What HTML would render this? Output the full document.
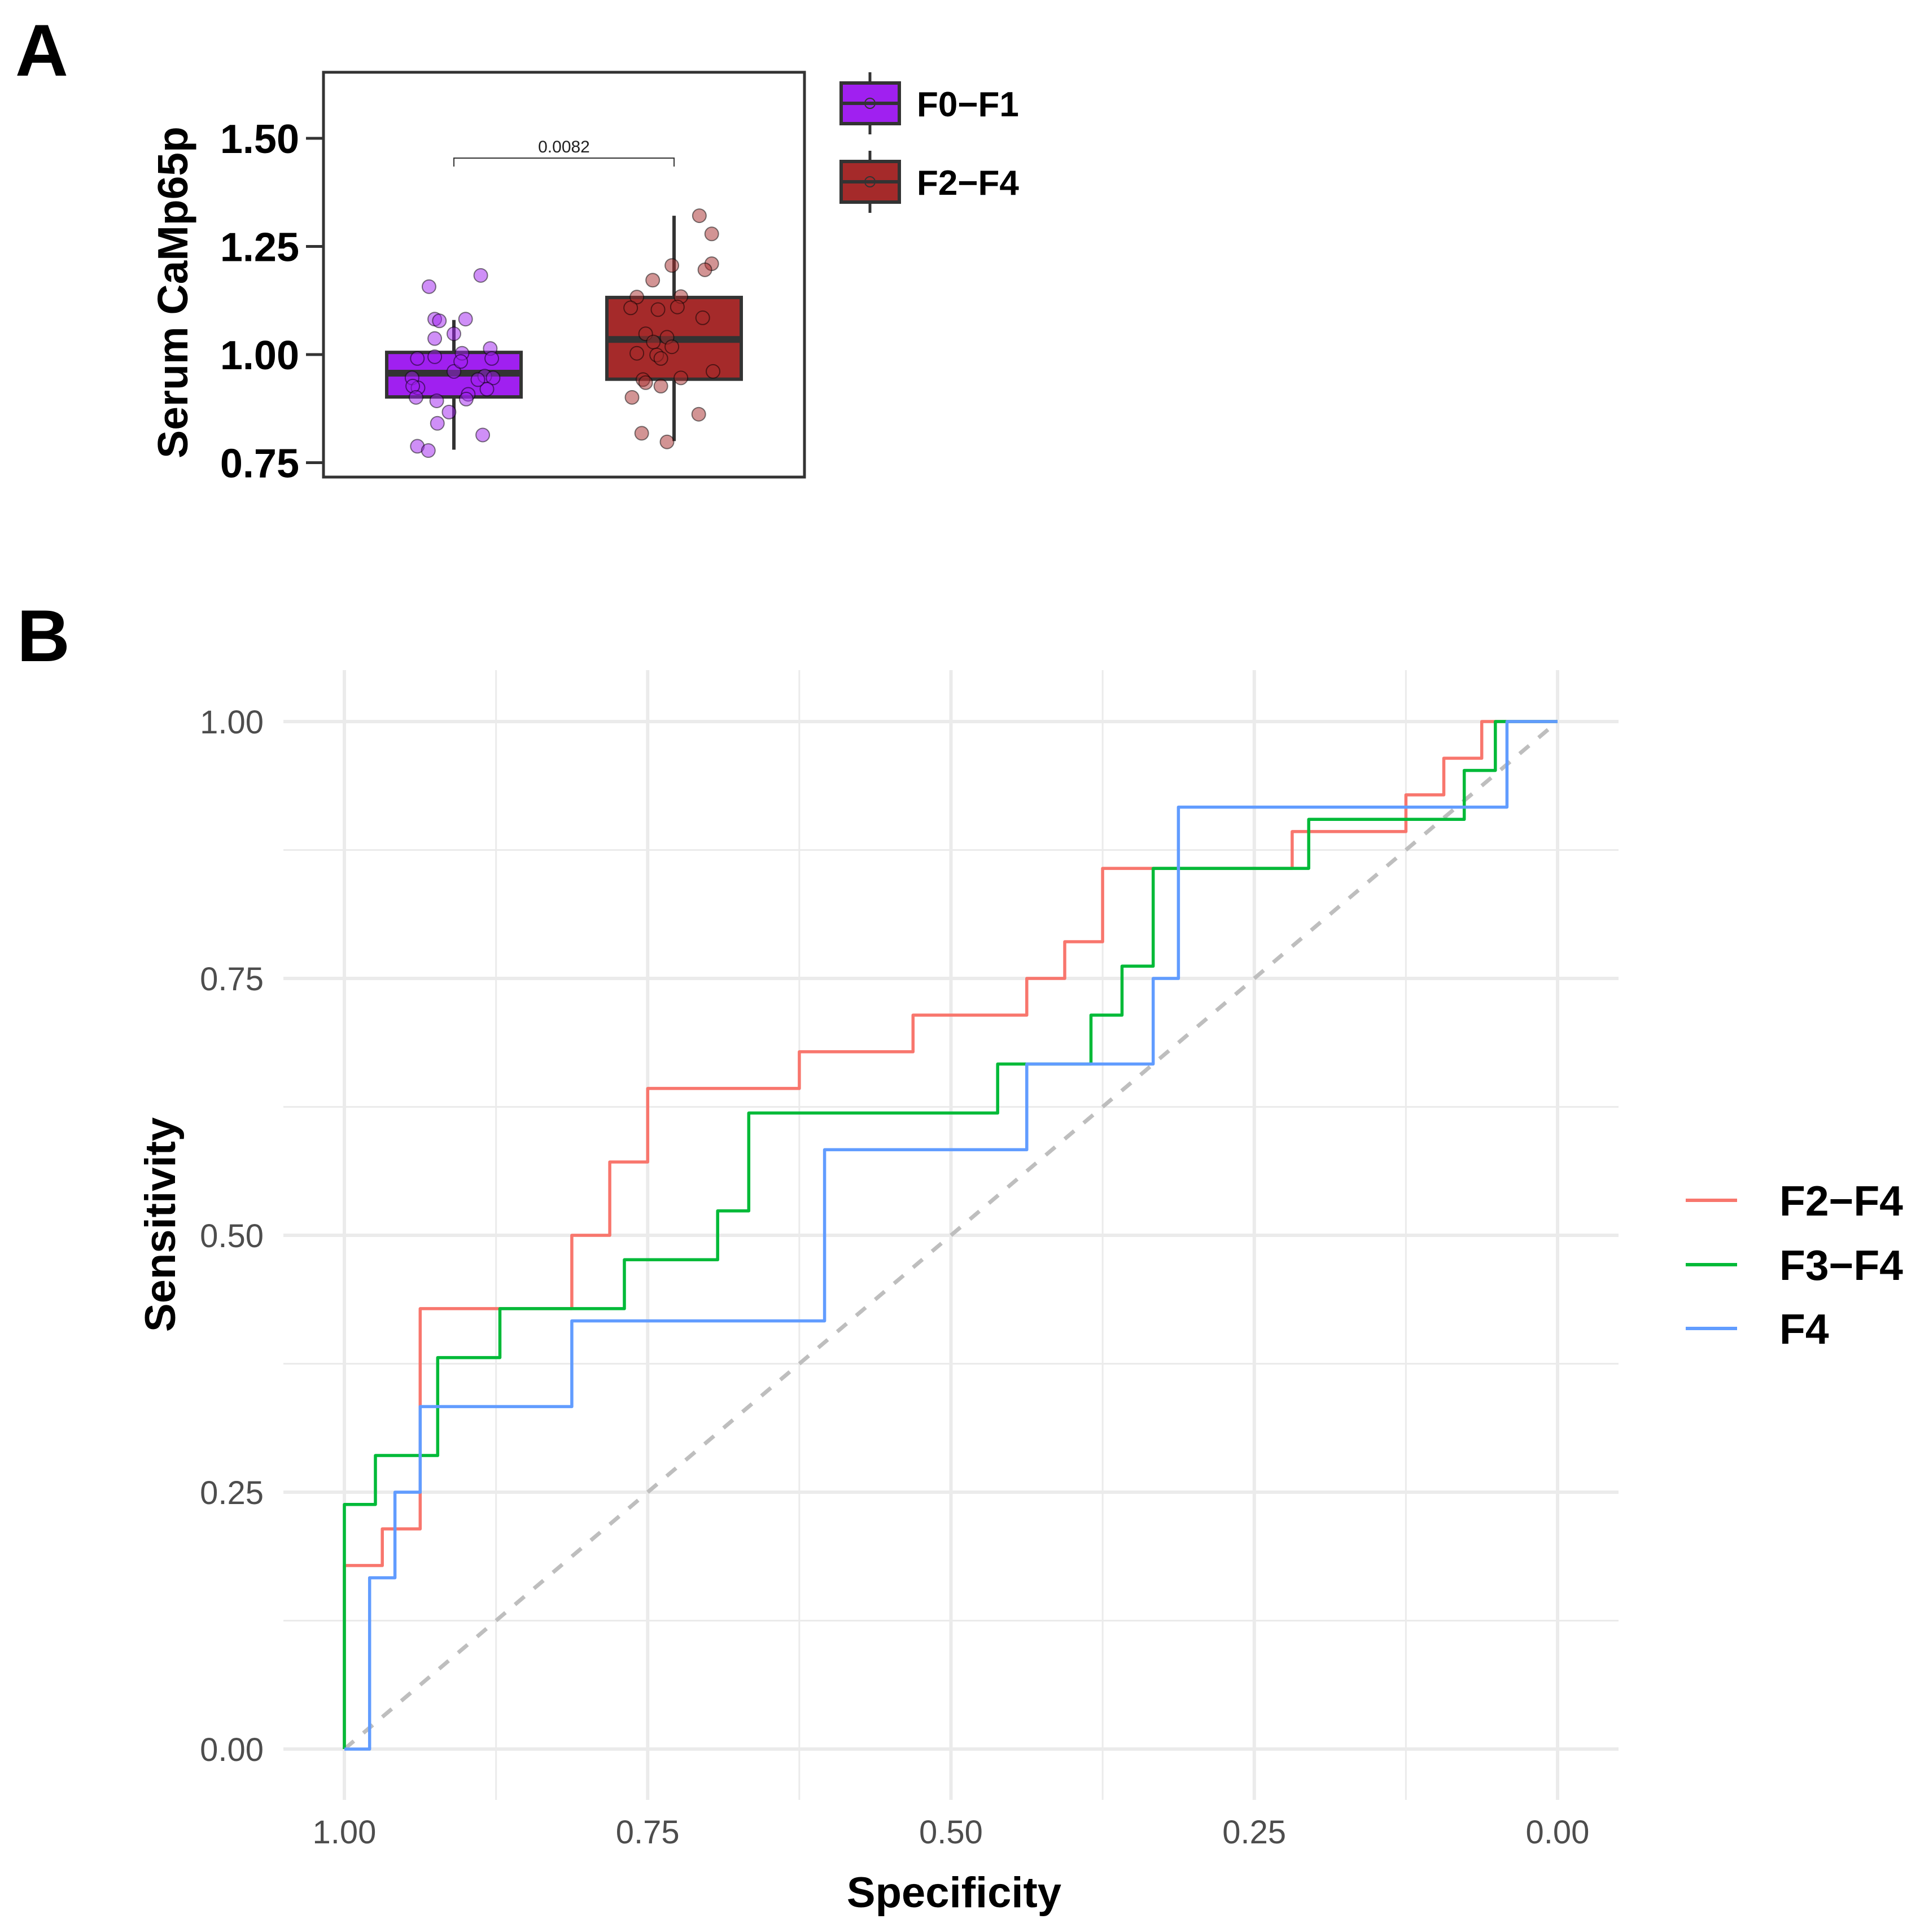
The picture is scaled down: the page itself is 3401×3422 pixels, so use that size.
<!DOCTYPE html>
<html><head><meta charset="utf-8"><style>
html,body{margin:0;padding:0;background:#fff;}
svg{display:block;}
text{font-family:"Liberation Sans",Arial,sans-serif;}
</style></head><body>
<svg id="fig" width="3401" height="3422" viewBox="0 0 3401 3422" xmlns="http://www.w3.org/2000/svg">
<rect x="0" y="0" width="3401" height="3422" fill="#fff"/>
<text x="27" y="134" font-size="130" font-weight="bold">A</text>
<text x="30" y="1171" font-size="130" font-weight="bold">B</text>
<g id="pa" transform="translate(-6,0)"></g>
<g id="pb"></g>
</svg>
<script>
// ---------- Panel A data ----------
const groupsA = ["F0\u2212F1", "F2\u2212F4"];
const boxFill = ["#A020F0", "#A52A2A"];
const boxQ1 = [0.902, 0.943];
const boxMed = [0.957, 1.035];
const boxQ3 = [1.005, 1.132];
const whiskLo = [0.780, 0.800];
const whiskHi = [1.080, 1.321];
const yTicksA = [0.75, 1.00, 1.25, 1.50];
const yTickLabelsA = ["0.75", "1.00", "1.25", "1.50"];
const ptsA0 = [1.157,1.183,1.082,1.078,1.082,1.037,1.048,0.991,0.995,1.003,1.014,0.991,0.961,0.946,0.923,0.927,0.893,0.908,0.950,0.946,0.920,0.897,0.867,0.841,0.814,0.788,0.778,0.984,0.942,0.901];
const jitA0 = [-0.113,0.122,-0.087,-0.066,0.053,-0.087,0,-0.166,-0.087,0.037,0.165,0.172,0,-0.19,-0.163,-0.187,-0.078,0.065,0.14,0.178,0.15,0.056,-0.022,-0.075,0.131,-0.166,-0.116,0.031,0.109,-0.172];
const ptsA1 = [1.321,1.279,1.206,1.210,1.196,1.172,1.133,1.134,1.108,1.104,1.110,1.085,1.048,1.040,1.029,1.018,1.003,0.999,0.991,0.961,0.942,0.946,0.935,0.927,0.901,0.862,0.818,0.798];
const jitA1 = [0.115,0.171,-0.01,0.171,0.14,-0.097,-0.169,0.031,-0.197,-0.073,0.015,0.13,-0.129,-0.032,-0.094,-0.01,-0.169,-0.079,-0.06,0.177,-0.141,0.031,-0.129,-0.06,-0.191,0.112,-0.147,-0.032];
const pValue = "0.0082";

// ---------- Panel B data ----------
const rocNames = ["F2\u2212F4", "F3\u2212F4", "F4"];
const rocColors = ["#F8766D", "#00BA38", "#619CFF"];
const redSpec = [1,1,0.96875,0.96875,0.9375,0.9375,0.8125,0.8125,0.78125,0.78125,0.75,0.75,0.625,0.625,0.53125,0.53125,0.4375,0.4375,0.40625,0.40625,0.375,0.375,0.21875,0.21875,0.125,0.125,0.09375,0.09375,0.0625,0.0625,0];
const redSens = [0,0.1786,0.1786,0.2143,0.2143,0.4286,0.4286,0.5,0.5,0.5714,0.5714,0.6429,0.6429,0.6786,0.6786,0.7143,0.7143,0.75,0.75,0.7857,0.7857,0.8571,0.8571,0.8929,0.8929,0.9286,0.9286,0.9643,0.9643,1,1];
const greenSpec = [1,1,0.9744,0.9744,0.9231,0.9231,0.8718,0.8718,0.7692,0.7692,0.6923,0.6923,0.6667,0.6667,0.4615,0.4615,0.3846,0.3846,0.3590,0.3590,0.3333,0.3333,0.2051,0.2051,0.0769,0.0769,0.0513,0.0513,0];
const greenSens = [0,0.2381,0.2381,0.2857,0.2857,0.3810,0.3810,0.4286,0.4286,0.4762,0.4762,0.5238,0.5238,0.6190,0.6190,0.6667,0.6667,0.7143,0.7143,0.7619,0.7619,0.8571,0.8571,0.9048,0.9048,0.9524,0.9524,1,1];
const blueSpec = [1,0.9792,0.9792,0.9583,0.9583,0.9375,0.9375,0.8125,0.8125,0.6042,0.6042,0.4375,0.4375,0.3333,0.3333,0.3125,0.3125,0.0417,0.0417,0];
const blueSens = [0,0,0.1667,0.1667,0.25,0.25,0.3333,0.3333,0.4167,0.4167,0.5833,0.5833,0.6667,0.6667,0.75,0.75,0.9167,0.9167,1,1];
const ticksB = [0, 0.25, 0.5, 0.75, 1];
const tickLabelsX = ["0.00","0.25","0.50","0.75","1.00"];
const tickLabelsY = ["0.00","0.25","0.50","0.75","1.00"];
const minorB = [0.125, 0.375, 0.625, 0.875];

const NS = "http://www.w3.org/2000/svg";
function mk(tag, attrs, parent){ const e=document.createElementNS(NS,tag); for(const k in attrs) e.setAttribute(k,attrs[k]); parent.appendChild(e); return e; }

// ---------- Panel A ----------
const pa = document.getElementById('pa');
const yA = v => 628 - (v-1)*766;
const xA = (g, j) => 810 + (g + (j||0))*390;
const fL=579, fR=1431, fT=128, fB=845;
yTicksA.forEach((t,i)=>{
  const tk = mk('line',{x1:548,x2:fL,y1:yA(t),y2:yA(t),stroke:'#333',"stroke-width":5},pa);
  
  
  const tl = mk('text',{x:536,y:yA(t)+26,"font-size":72,"font-weight":"bold","text-anchor":"end"},pa);
  tl.textContent = yTickLabelsA[i];
  
  
});
const yt = mk('text',{x:0,y:0,"font-size":75,"font-weight":"bold","text-anchor":"middle",transform:"translate(338,518) rotate(-90)"},pa);
yt.textContent = "Serum CaMp65p";


[0,1].forEach(g=>{
  const cx = xA(g), hw = 119;
  const wl = mk('line',{x1:cx,x2:cx,y1:yA(whiskHi[g]),y2:yA(whiskLo[g]),stroke:'#333',"stroke-width":6},pa);
  
  
  const bx = mk('rect',{x:cx-hw,y:yA(boxQ3[g]),width:2*hw,height:yA(boxQ1[g])-yA(boxQ3[g]),fill:boxFill[g],stroke:'#333',"stroke-width":6},pa);
  
  
  const md = mk('line',{x1:cx-hw,x2:cx+hw,y1:yA(boxMed[g]),y2:yA(boxMed[g]),stroke:'#333',"stroke-width":12},pa);
  
  
  const pts = g===0?ptsA0:ptsA1, jit = g===0?jitA0:jitA1;
  pts.forEach((v,i)=>{
    const c = mk('circle',{cx:xA(g,jit[i]),cy:yA(v),r:12,fill:boxFill[g],"fill-opacity":0.5,stroke:'#000',"stroke-opacity":0.5,"stroke-width":2},pa);
    
    
  });
});
const fr = mk('rect',{x:fL,y:fT,width:fR-fL,height:fB-fT,fill:'none',stroke:'#333',"stroke-width":5},pa);


const br = mk('path',{d:`M${xA(0)},295 V280 H${xA(1)} V295`,fill:'none',stroke:'#333',"stroke-width":2},pa);


const pv = mk('text',{x:(xA(0)+xA(1))/2,y:270,"font-size":30,"text-anchor":"middle",fill:'#222'},pa);
pv.textContent = pValue;


const legYA = [183, 322];
groupsA.forEach((g,i)=>{
  const cy = legYA[i];
  const gl = mk('g',{},pa);
  
  
  mk('line',{x1:1547,x2:1547,y1:cy-55,y2:cy+55,stroke:'#333',"stroke-width":5},gl);
  mk('rect',{x:1496,y:cy-36,width:103,height:72,fill:boxFill[i],stroke:'#333',"stroke-width":6},gl);
  mk('line',{x1:1496,x2:1599,y1:cy,y2:cy,stroke:'#333',"stroke-width":6},gl);
  mk('circle',{cx:1547,cy:cy,r:9,fill:'none',stroke:'#333',"stroke-width":2},gl);
  const t = mk('text',{x:1630,y:cy+23,"font-size":62,"font-weight":"bold"},gl);
  t.textContent = g;
});

// ---------- Panel B ----------
const pb = document.getElementById('pb');
const xB = s => 2759 - s*2149;
const yB = v => 3098 - v*1820;
const pL=502, pR=2867, pT=1187, pBt=3188;
minorB.forEach(m=>{
  const h = mk('line',{x1:pL,x2:pR,y1:yB(m),y2:yB(m),stroke:'#EBEBEB',"stroke-width":3},pb);
  
  
  const v = mk('line',{x1:xB(m),x2:xB(m),y1:pT,y2:pBt,stroke:'#EBEBEB',"stroke-width":3},pb);
  
  
});
ticksB.forEach((t,i)=>{
  const h = mk('line',{x1:pL,x2:pR,y1:yB(t),y2:yB(t),stroke:'#EBEBEB',"stroke-width":6},pb);
  
  
  const v = mk('line',{x1:xB(t),x2:xB(t),y1:pT,y2:pBt,stroke:'#EBEBEB',"stroke-width":6},pb);
  
  
  const xl = mk('text',{x:xB(t),y:3265,"font-size":58,"text-anchor":"middle",fill:'#4D4D4D'},pb);
  xl.textContent = tickLabelsX[i];
  
  
  const yl = mk('text',{x:467,y:yB(t)+21,"font-size":58,"text-anchor":"end",fill:'#4D4D4D'},pb);
  yl.textContent = tickLabelsY[i];
  
  
});
const dg = mk('line',{x1:xB(1),y1:yB(0),x2:xB(0),y2:yB(1),stroke:'#BEBEBE',"stroke-width":7,"stroke-dasharray":"22 22"},pb);


const series = [[redSpec,redSens],[greenSpec,greenSens],[blueSpec,blueSens]];
series.forEach((s,k)=>{
  const d = s[0].map((sp,i)=>(i?'L':'M')+xB(sp).toFixed(1)+','+yB(s[1][i]).toFixed(1)).join(' ');
  const p = mk('path',{d:d,fill:'none',stroke:rocColors[k],"stroke-width":5.5,"stroke-linejoin":"round"},pb);
  
  
});
const xt = mk('text',{x:1690,y:3378,"font-size":76,"font-weight":"bold","text-anchor":"middle"},pb);
xt.textContent = "Specificity";


const ytb = mk('text',{x:0,y:0,"font-size":76,"font-weight":"bold","text-anchor":"middle",transform:"translate(310,2169) rotate(-90)"},pb);
ytb.textContent = "Sensitivity";


const legYB = [2126, 2240, 2353];
rocNames.forEach((n,i)=>{
  const g = mk('g',{},pb);
  
  
  mk('line',{x1:2986,x2:3077,y1:legYB[i],y2:legYB[i],stroke:rocColors[i],"stroke-width":6},g);
  const t = mk('text',{x:3152,y:legYB[i]+27,"font-size":75,"font-weight":"bold"},g);
  t.textContent = n;
});
</script>
</body></html>
